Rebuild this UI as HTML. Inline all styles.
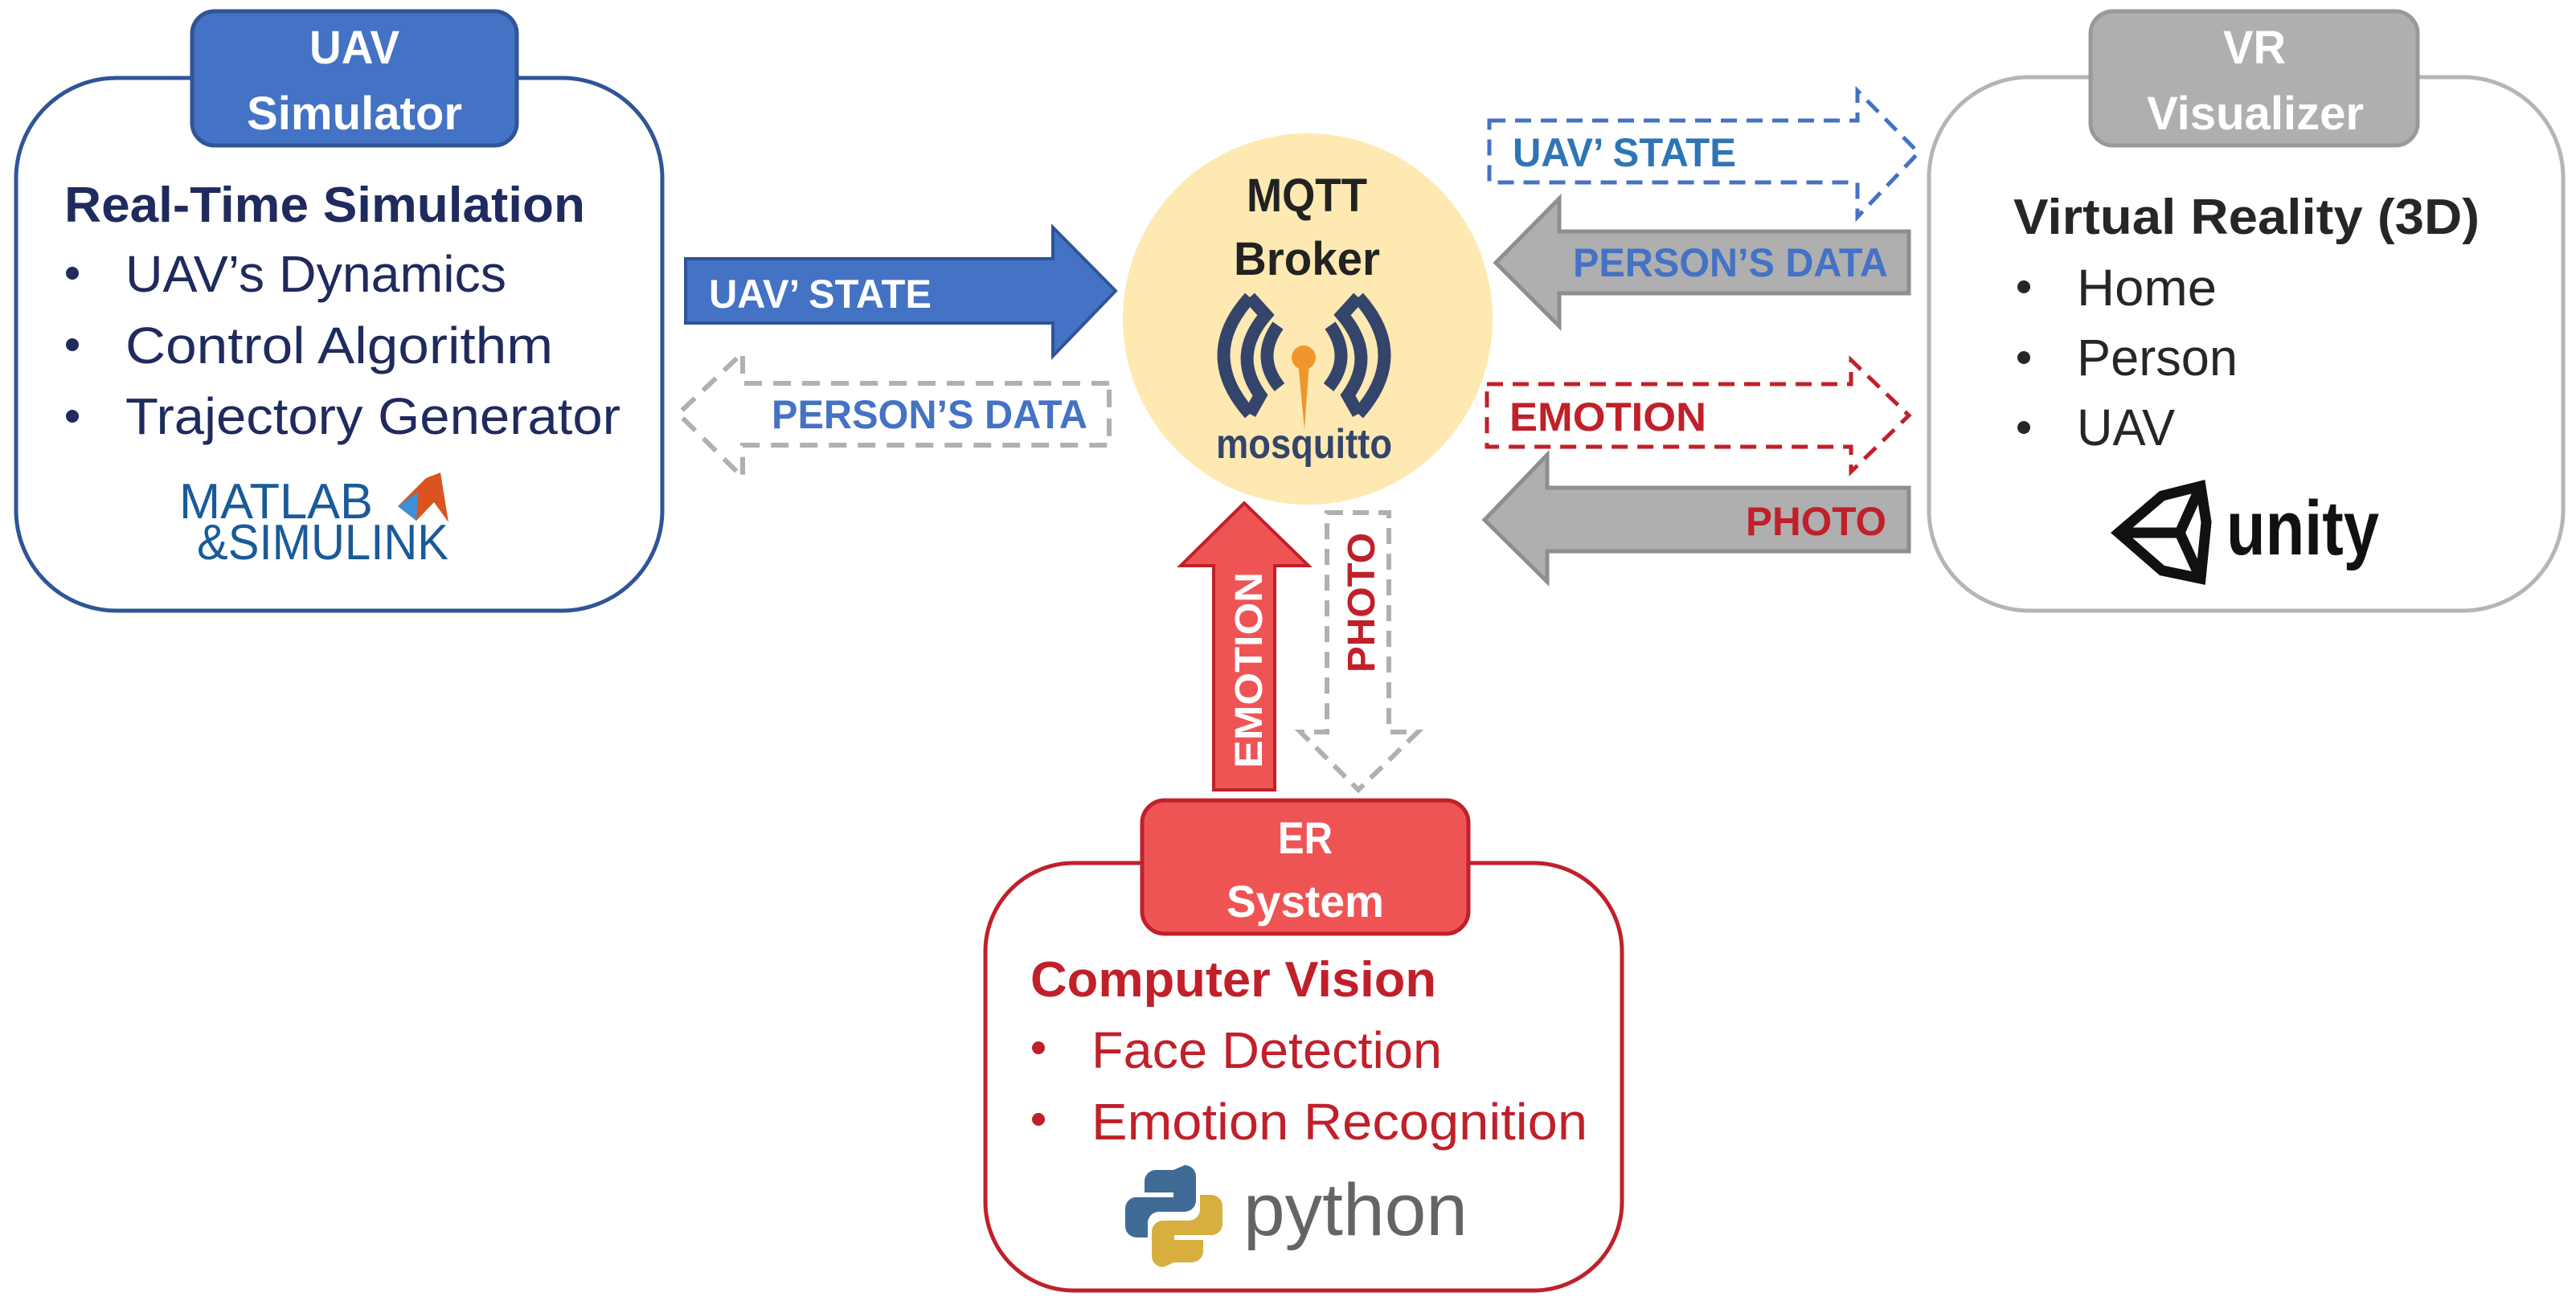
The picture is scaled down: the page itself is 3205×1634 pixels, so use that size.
<!DOCTYPE html>
<html><head><meta charset="utf-8"><style>
html,body{margin:0;padding:0;background:#fff;}
svg{display:block;}
text{font-family:"Liberation Sans",sans-serif;}
</style></head><body>
<svg width="3205" height="1634" viewBox="0 0 3205 1634" xmlns="http://www.w3.org/2000/svg">
<!-- UAV box -->
<rect x="20" y="97" width="804" height="663" rx="125" fill="#fff" stroke="#2f5597" stroke-width="5"/>
<rect x="239" y="14" width="404" height="167" rx="28" fill="#4472c4" stroke="#2f5597" stroke-width="5"/>
<text x="441" y="79" text-anchor="middle" font-size="58" font-weight="bold" fill="#fff" textLength="112" lengthAdjust="spacingAndGlyphs">UAV</text>
<text x="441" y="161" text-anchor="middle" font-size="58" font-weight="bold" fill="#fff" textLength="268" lengthAdjust="spacingAndGlyphs">Simulator</text>
<text x="80" y="276" font-size="62" font-weight="bold" fill="#1f2a5e" textLength="648" lengthAdjust="spacingAndGlyphs">Real-Time Simulation</text>
<g fill="#1f2a5e" font-size="64">
<circle cx="90" cy="340" r="8"/><circle cx="90" cy="429" r="8"/><circle cx="90" cy="518" r="8"/>
<text x="156" y="363" textLength="474" lengthAdjust="spacingAndGlyphs">UAV’s Dynamics</text>
<text x="156" y="452" textLength="532" lengthAdjust="spacingAndGlyphs">Control Algorithm</text>
<text x="156" y="540" textLength="616" lengthAdjust="spacingAndGlyphs">Trajectory Generator</text>
</g>
<text x="223" y="645" font-family="Liberation Serif" font-size="62" fill="#1b5a99" textLength="241" lengthAdjust="spacingAndGlyphs">MATLAB</text>
<text x="245" y="696" font-family="Liberation Serif" font-size="62" fill="#1b5a99" textLength="313" lengthAdjust="spacingAndGlyphs">&amp;SIMULINK</text>
<polygon points="495,630 530,595 548,588 558,650 540,625 518,648" fill="#d9541e"/>
<polygon points="495,630 520,612 518,648" fill="#3d8fd6"/>

<!-- UAV' STATE solid arrow -->
<polygon points="853,322 1310,322 1310,283 1388,362 1310,443 1310,402 853,402" fill="#4472c4" stroke="#2f5597" stroke-width="4"/>
<text x="882" y="383" font-size="50" font-weight="bold" fill="#fff" textLength="277" lengthAdjust="spacingAndGlyphs">UAV’ STATE</text>

<!-- PERSON'S DATA dashed left -->
<polygon points="1380,477 924,477 924,439 844,515 924,594 924,554 1380,554" fill="none" stroke="#b0b0b0" stroke-width="6" stroke-dasharray="22,14"/>
<text x="960" y="533" font-size="50" font-weight="bold" fill="#4472c4" textLength="393" lengthAdjust="spacingAndGlyphs">PERSON’S DATA</text>

<!-- MQTT broker -->
<ellipse cx="1627" cy="397" rx="230" ry="231" fill="#fde9b1"/>
<text x="1626" y="263" text-anchor="middle" font-size="58" font-weight="bold" fill="#222" textLength="150" lengthAdjust="spacingAndGlyphs">MQTT</text>
<text x="1626" y="342" text-anchor="middle" font-size="58" font-weight="bold" fill="#222" textLength="182" lengthAdjust="spacingAndGlyphs">Broker</text>
<g fill="none" stroke="#34446a" stroke-width="16" stroke-linejoin="miter">
<path d="M1555,370 Q1490,442 1555,515"/>
<path d="M1555,370 L1575,392 Q1532,442 1568,492 L1555,515"/>
<path d="M1590,405 Q1562,445 1592,482"/>
<path d="M1690,370 Q1755,442 1690,515"/>
<path d="M1690,370 L1670,392 Q1713,442 1677,492 L1690,515"/>
<path d="M1655,405 Q1683,445 1653,482"/>
</g>
<circle cx="1622" cy="445" r="15" fill="#f0962e"/>
<polygon points="1615,450 1629,450 1623,535" fill="#f0962e"/>
<text x="1513" y="570" font-size="52" font-weight="bold" fill="#34446a" textLength="219" lengthAdjust="spacingAndGlyphs">mosquitto</text>

<!-- Right side arrows -->
<polygon points="1853,150 2311,150 2311,113 2387,190 2311,270 2311,227 1853,227 1853,150" fill="none" stroke="#4472c4" stroke-width="5" stroke-dasharray="20,12"/>
<text x="1882" y="207" font-size="50" font-weight="bold" fill="#2f75b5" textLength="278" lengthAdjust="spacingAndGlyphs">UAV’ STATE</text>

<polygon points="2375,288 1940,288 1940,247 1861,327 1940,406 1940,365 2375,365" fill="#afafb0" stroke="#8e8e8e" stroke-width="5"/>
<text x="1957" y="344" font-size="50" font-weight="bold" fill="#4472c4" textLength="392" lengthAdjust="spacingAndGlyphs">PERSON’S DATA</text>

<polygon points="1850,478 2303,478 2303,448 2375,517 2303,587 2303,556 1850,556 1850,478" fill="none" stroke="#c0202a" stroke-width="5" stroke-dasharray="20,12"/>
<text x="1878" y="536" font-size="50" font-weight="bold" fill="#c0202a" textLength="245" lengthAdjust="spacingAndGlyphs">EMOTION</text>

<polygon points="2375,607 1925,607 1925,566 1847,647 1925,724 1925,686 2375,686" fill="#afafb0" stroke="#8e8e8e" stroke-width="5"/>
<text x="2172" y="666" font-size="50" font-weight="bold" fill="#c0202a" textLength="175" lengthAdjust="spacingAndGlyphs">PHOTO</text>

<!-- VR box -->
<rect x="2400" y="96" width="789" height="664" rx="125" fill="#fff" stroke="#b5b5b5" stroke-width="5"/>
<rect x="2601" y="14" width="407" height="167" rx="28" fill="#afafb0" stroke="#999" stroke-width="5"/>
<text x="2805" y="79" text-anchor="middle" font-size="58" font-weight="bold" fill="#fff" textLength="78" lengthAdjust="spacingAndGlyphs">VR</text>
<text x="2806" y="161" text-anchor="middle" font-size="58" font-weight="bold" fill="#fff" textLength="270" lengthAdjust="spacingAndGlyphs">Visualizer</text>
<text x="2505" y="291" font-size="62" font-weight="bold" fill="#262626" textLength="580" lengthAdjust="spacingAndGlyphs">Virtual Reality (3D)</text>
<g fill="#262626" font-size="64">
<circle cx="2518" cy="357" r="8"/><circle cx="2518" cy="445" r="8"/><circle cx="2518" cy="532" r="8"/>
<text x="2584" y="380" textLength="174" lengthAdjust="spacingAndGlyphs">Home</text>
<text x="2584" y="467" textLength="200" lengthAdjust="spacingAndGlyphs">Person</text>
<text x="2584" y="554" textLength="122" lengthAdjust="spacingAndGlyphs">UAV</text>
</g>
<g fill="none" stroke="#111" stroke-width="13" stroke-linejoin="miter">
<polygon points="2636,663 2690,617 2738,605 2745,650 2738,720 2690,710"/>
<polyline points="2636,663 2712,663 2738,605"/>
<line x1="2712" y1="663" x2="2738" y2="720"/>
</g>
<text x="2770" y="690" font-size="96" font-weight="bold" fill="#111" textLength="190" lengthAdjust="spacingAndGlyphs">unity</text>

<!-- Vertical arrows -->
<polygon points="1510,983 1510,704 1469,704 1548,626 1628,704 1586,704 1586,983" fill="#ef5455" stroke="#c0202a" stroke-width="4"/>
<text transform="translate(1570,956) rotate(-90)" font-size="48" font-weight="bold" fill="#fff" textLength="244" lengthAdjust="spacingAndGlyphs">EMOTION</text>
<polygon points="1651,638 1728,638 1728,911 1764,911 1690,983 1618,911 1651,911 1651,638" fill="none" stroke="#b0b0b0" stroke-width="6" stroke-dasharray="20,12"/>
<text transform="translate(1710,837) rotate(-90)" font-size="48" font-weight="bold" fill="#c0202a" textLength="174" lengthAdjust="spacingAndGlyphs">PHOTO</text>

<!-- ER box -->
<rect x="1226" y="1074" width="792" height="532" rx="110" fill="#fff" stroke="#c0202a" stroke-width="5"/>
<rect x="1421" y="996" width="406" height="166" rx="28" fill="#ef5455" stroke="#c0202a" stroke-width="5"/>
<text x="1624" y="1062" text-anchor="middle" font-size="56" font-weight="bold" fill="#fff" textLength="68" lengthAdjust="spacingAndGlyphs">ER</text>
<text x="1624" y="1141" text-anchor="middle" font-size="56" font-weight="bold" fill="#fff" textLength="196" lengthAdjust="spacingAndGlyphs">System</text>
<text x="1282" y="1240" font-size="62" font-weight="bold" fill="#c0202a" textLength="505" lengthAdjust="spacingAndGlyphs">Computer Vision</text>
<g fill="#c0202a" font-size="64">
<circle cx="1292" cy="1304" r="8"/><circle cx="1292" cy="1393" r="8"/>
<text x="1358" y="1329" textLength="436" lengthAdjust="spacingAndGlyphs">Face Detection</text>
<text x="1358" y="1418" textLength="617" lengthAdjust="spacingAndGlyphs">Emotion Recognition</text>
</g>
<path d="M1460,1456 h-22 a14,14 0 0 0 -14,14 v14 h36 v6 h-44 a14,14 0 0 0 -16,14 v22 a14,14 0 0 0 14,14 h14 v-18 a14,14 0 0 1 14,-14 h32 a14,14 0 0 0 14,-14 v-30 a14,14 0 0 0 -14,-14 z" fill="#3f6b96"/>
<path d="M1461,1571 h22 a14,14 0 0 0 14,-14 v-14 h-36 v-6 h44 a14,14 0 0 0 16,-14 v-22 a14,14 0 0 0 -14,-14 h-14 v18 a14,14 0 0 1 -14,14 h-32 a14,14 0 0 0 -14,14 v30 a14,14 0 0 0 14,14 z" fill="#d8ae3e"/>
<text x="1547" y="1537" font-size="92" fill="#646464" textLength="279" lengthAdjust="spacingAndGlyphs">python</text>
</svg>
</body></html>
